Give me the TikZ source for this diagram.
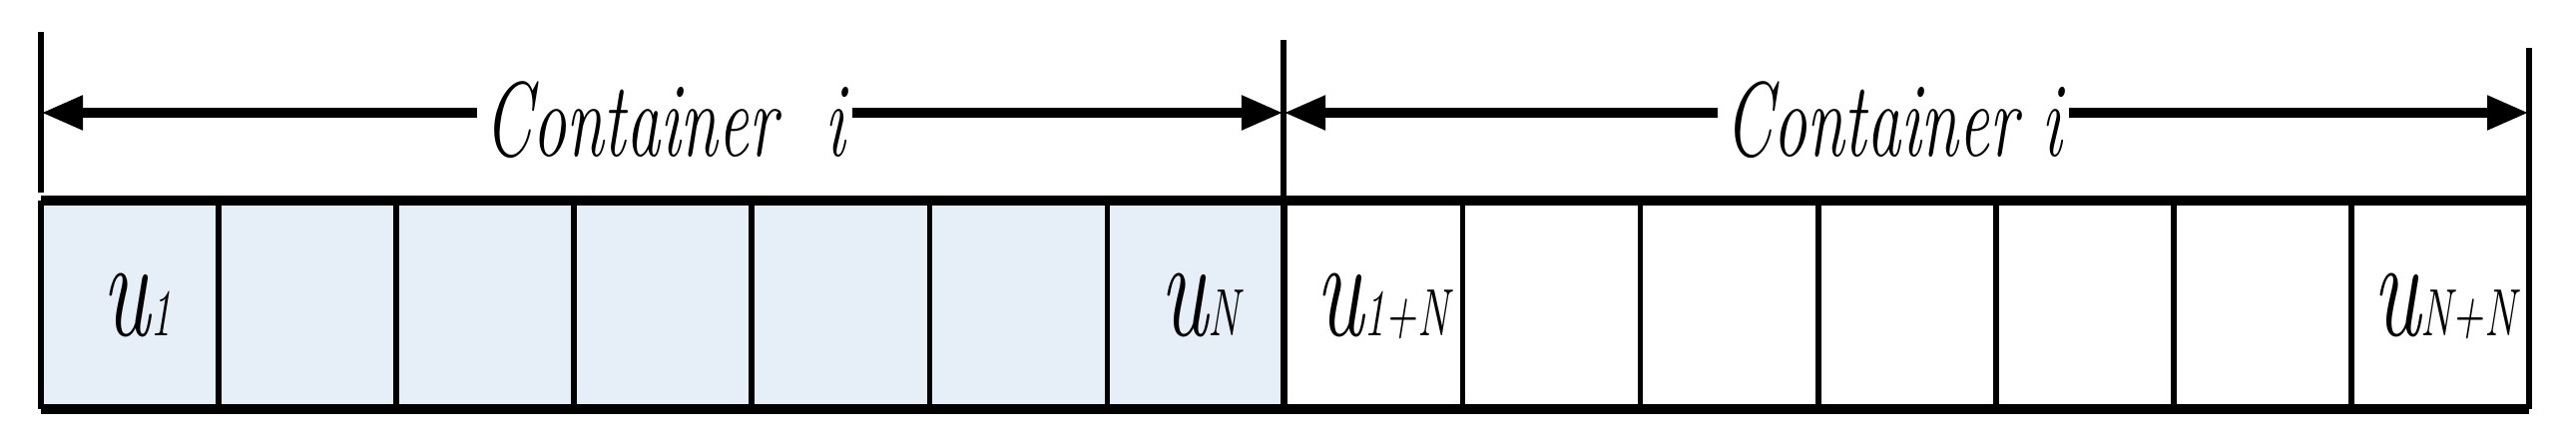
\documentclass[tikz,border=0pt]{standalone}
\usepackage{graphicx}
\usetikzlibrary{arrows.meta}
\definecolor{cellblue}{HTML}{E6EEF8}
\newcommand{\cond}[1]{\scalebox{0.72}[1.12]{#1}}
\begin{document}
\begin{tikzpicture}[x=0.01cm,y=-0.01cm,
  thin line/.style={line width=1.6pt},
  thick line/.style={line width=2.6pt},
  dimarrow/.style={line width=3pt,{Triangle[length=0.42cm,width=0.32cm]}-{Triangle[length=0.42cm,width=0.32cm]}},
  lbl/.style={fill=white,inner sep=2pt,font=\fontsize{27}{29}\selectfont\itshape},
  ulbl/.style={inner sep=0pt,font=\fontsize{36}{38}\selectfont\itshape}]
\useasboundingbox (0,0) rectangle (2581,449);
\fill[cellblue] (41,201) rectangle (1285,410);
\foreach \i in {1,...,13} {
  \draw[thin line] ({41+\i*178.07},201) -- ({41+\i*178.07},410);
}
\draw[thin line] (41,201) -- (41,410);
\draw[thin line] (2534,201) -- (2534,410);
\draw[thick line] (41,201) -- (2534,201);
\draw[thick line] (41,410) -- (2534,410);
\coordinate (L0) at (41,32);
\coordinate (L1) at (41,193);
\coordinate (M0) at (1286,40);
\coordinate (M1) at (1286,410);
\coordinate (R0) at (2534,48);
\coordinate (R1) at (2534,201);
\draw[thin line] (L0) -- (L1);
\draw[thin line] (M0) -- (M1);
\draw[thin line] (R0) -- (R1);
\coordinate (A0) at (41,113);
\coordinate (A1) at (1286,113);
\coordinate (A2) at (2534,113);
\draw[dimarrow] (A0) -- (A1);
\draw[dimarrow] (A1) -- (A2);
\node[lbl] (c1) at (666,120) {\cond{Container\ \ i}};
\node[lbl] (c2) at (1897,120) {\cond{Container i}};
\node[ulbl,anchor=base] (u1) at (137,337) {\cond{u\fontsize{17}{19}\selectfont 1}};
\node[ulbl,anchor=base] (uN) at (1202,337) {\cond{u\fontsize{17}{19}\selectfont N}};
\node[ulbl,anchor=base] (u1N) at (1385,337) {\cond{u\fontsize{17}{19}\selectfont 1+N}};
\node[ulbl,anchor=base] (uNN) at (2449,337) {\cond{u\fontsize{17}{19}\selectfont N+N}};
\end{tikzpicture}
\end{document}
